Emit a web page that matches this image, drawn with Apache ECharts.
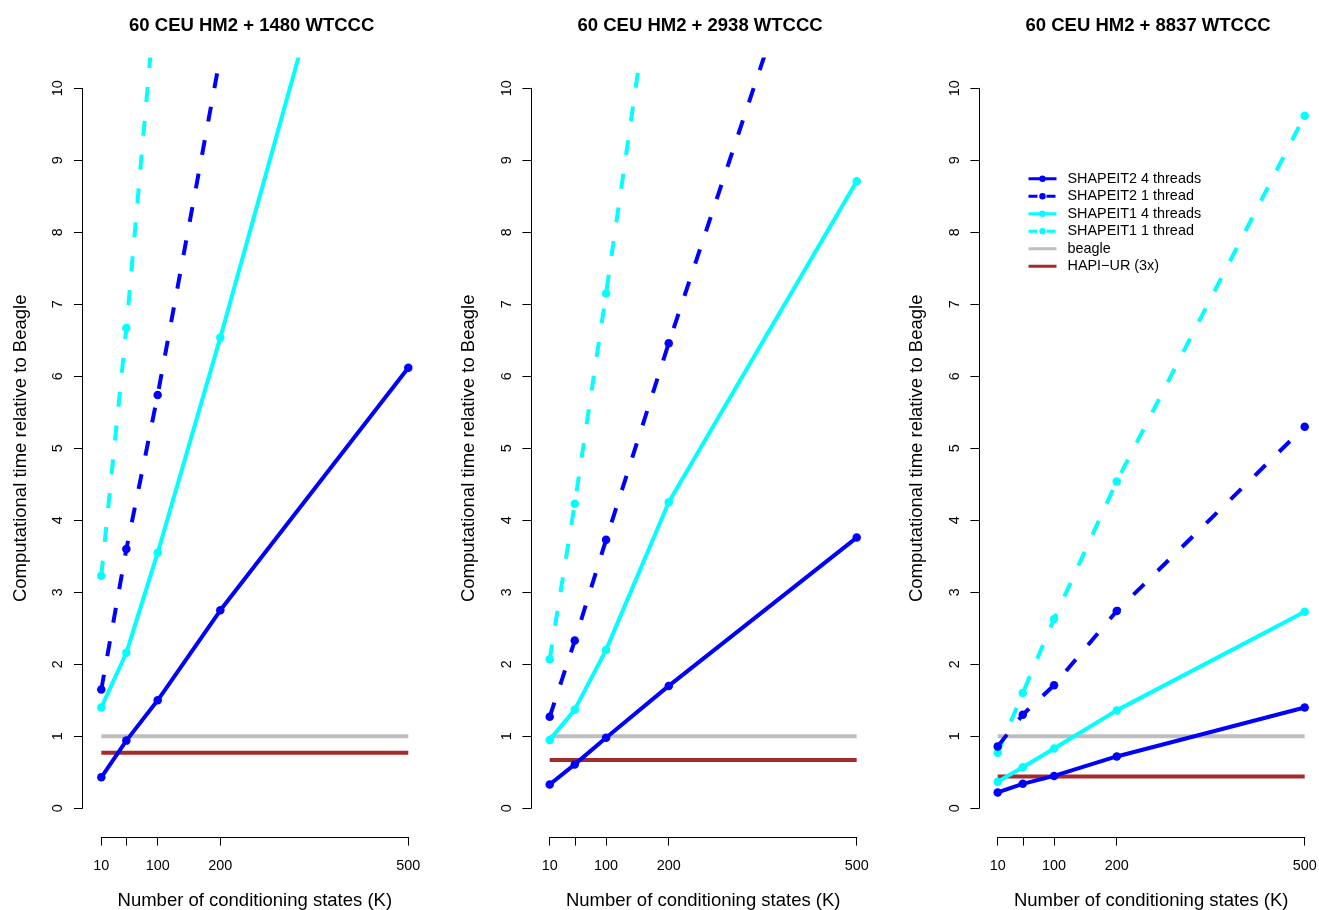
<!DOCTYPE html>
<html><head><meta charset="utf-8">
<script src="https://cdn.jsdelivr.net/npm/echarts@6/dist/echarts.min.js"></script>
<style>html,body{margin:0;padding:0;background:#fff}#c{width:1319px;height:910px}</style>
</head><body><div id="c"></div><script>
// ---- data ----
const panelTitles = ['60 CEU HM2 + 1480 WTCCC', '60 CEU HM2 + 2938 WTCCC', '60 CEU HM2 + 8837 WTCCC'];
const kValues = [10, 50, 100, 200, 500];
const xTickValues = [10, 50, 100, 200, 500];
const xLabelValues = [10, 100, 200, 500];
const seriesNames = ['SHAPEIT2 4 threads', 'SHAPEIT2 1 thread', 'SHAPEIT1 4 threads', 'SHAPEIT1 1 thread', 'beagle', 'HAPI\u2212UR (3x)'];
const shapeit2Threads4 = [[0.43, 0.94, 1.50, 2.75, 6.12], [0.33, 0.61, 0.98, 1.70, 3.76], [0.22, 0.34, 0.45, 0.72, 1.40]];
const shapeit2Thread1 = [[1.65, 3.60, 5.74, 10.45, null], [1.27, 2.33, 3.73, 6.46, 14.3], [0.86, 1.30, 1.71, 2.74, 5.30]];
const shapeit1Threads4 = [[1.40, 2.16, 3.55, 6.54, 15.9], [0.95, 1.37, 2.20, 4.25, 8.71], [0.37, 0.57, 0.83, 1.36, 2.73]];
const shapeit1Thread1 = [[3.23, 6.67, 11.6, null, null], [2.07, 4.23, 7.15, 13.2, null], [0.77, 1.60, 2.63, 4.54, 9.62]];
const beagleValue = [1, 1, 1];
const hapiurValue = [0.77, 0.67, 0.44];

// ---- layout ----
const FONT = 'Liberation Sans';
const s = 0.62653;               // px per K unit
const p10 = [101.3, 549.7, 997.7]; // x pixel of K=10 per panel
const BLUE = '#0000FF', CYAN = '#00FFFF', GRAY = '#BEBEBE', BROWN = '#A52A2A';
const DASH = [15, 19];

const grids = [], xAxes = [], yAxes = [], series = [], titles = [];
function pts(vals) {
  return kValues.map((k, j) => [k, vals[j]]).filter(p => p[1] !== null);
}
for (let i = 0; i < 3; i++) {
  const dg = 2 * i, ag = 2 * i + 1;
  grids.push({left: p10[i] - 30 * s, top: 59.5, width: 540 * s, height: 777.6, outerBoundsMode: 'none', containLabel: false});
  grids.push({left: p10[i], top: 88.3, width: 490 * s, height: 720, outerBoundsMode: 'none', containLabel: false});
  xAxes.push({gridIndex: dg, type: 'value', min: -20, max: 520, show: false});
  yAxes.push({gridIndex: dg, type: 'value', min: -0.4, max: 10.4, show: false});
  xAxes.push({
    gridIndex: ag, type: 'value', min: 10, max: 500, position: 'bottom', offset: 28.8,
    axisLine: {show: true, onZero: false, lineStyle: {color: '#000', width: 1}},
    axisTick: {show: true, inside: false, length: 8.5, customValues: xTickValues, lineStyle: {color: '#000', width: 1}},
    axisLabel: {show: true, customValues: xLabelValues, margin: 21.5, color: '#000', fontSize: 14.4, fontFamily: FONT},
    splitLine: {show: false},
    name: 'Number of conditioning states (K)', nameLocation: 'middle', nameGap: 54,
    nameTextStyle: {color: '#000', fontSize: 18.5, fontFamily: FONT}
  });
  yAxes.push({
    gridIndex: ag, type: 'value', min: 0, max: 10, interval: 1, position: 'left', offset: 30 * s,
    axisLine: {show: true, onZero: false, lineStyle: {color: '#000', width: 1}},
    axisTick: {show: true, inside: false, length: 8.5, lineStyle: {color: '#000', width: 1}},
    axisLabel: {show: true, rotate: 90, margin: 17, color: '#000', fontSize: 14.4, fontFamily: FONT},
    splitLine: {show: false},
    name: 'Computational time relative to Beagle', nameLocation: 'middle', nameGap: 52,
    nameTextStyle: {color: '#000', fontSize: 18.5, fontFamily: FONT}
  });
  titles.push({
    text: panelTitles[i], left: p10[i] - 30 * s + 270 * s, top: 16.5, textAlign: 'center', padding: 0,
    textStyle: {color: '#000', fontSize: 18.5, fontWeight: 'bold', fontFamily: FONT}
  });
  const common = {xAxisIndex: dg, yAxisIndex: dg, clip: true, silent: true};
  series.push(Object.assign({type: 'line', name: seriesNames[4], data: [[kValues[0], beagleValue[i]], [kValues[4], beagleValue[i]]],
    symbol: 'none', lineStyle: {color: GRAY, width: 4}, itemStyle: {color: GRAY}}, common));
  series.push(Object.assign({type: 'line', name: seriesNames[5], data: [[kValues[0], hapiurValue[i]], [kValues[4], hapiurValue[i]]],
    symbol: 'none', lineStyle: {color: BROWN, width: 4}, itemStyle: {color: BROWN}}, common));
  const defs = [
    [seriesNames[2], shapeit1Threads4[i], CYAN, 'solid'],
    [seriesNames[3], shapeit1Thread1[i], CYAN, DASH],
    [seriesNames[0], shapeit2Threads4[i], BLUE, 'solid'],
    [seriesNames[1], shapeit2Thread1[i], BLUE, DASH]
  ];
  defs.forEach(d => {
    series.push(Object.assign({
      type: 'line', name: d[0], data: pts(d[1]), symbol: 'circle', symbolSize: 8.5, showSymbol: true,
      lineStyle: {color: d[2], width: 4, type: d[3], cap: 'butt'}, itemStyle: {color: d[2], borderWidth: 0}
    }, common));
  });
}

const legendData = [
  {name: seriesNames[0]},
  {name: seriesNames[1], lineStyle: {type: [9, 9]}},
  {name: seriesNames[2]},
  {name: seriesNames[3], lineStyle: {type: [9, 9]}},
  {name: seriesNames[4], itemStyle: {opacity: 0}},
  {name: seriesNames[5], itemStyle: {opacity: 0}}
];

const chart = echarts.init(document.getElementById('c'), null, {renderer: 'canvas'});
chart.setOption({
  animation: false,
  backgroundColor: '#fff',
  title: titles,
  grid: grids,
  xAxis: xAxes,
  yAxis: yAxes,
  legend: {
    data: legendData, orient: 'vertical', left: 1027, top: 170, padding: 0, itemGap: 0,
    itemWidth: 28, itemHeight: 8, selectedMode: false,
    lineStyle: {width: 3},
    textStyle: {color: '#000', fontSize: 14.4, fontFamily: FONT, lineHeight: 17.5, padding: [0, 0, 0, 6]}
  },
  series: series
});
</script></body></html>
